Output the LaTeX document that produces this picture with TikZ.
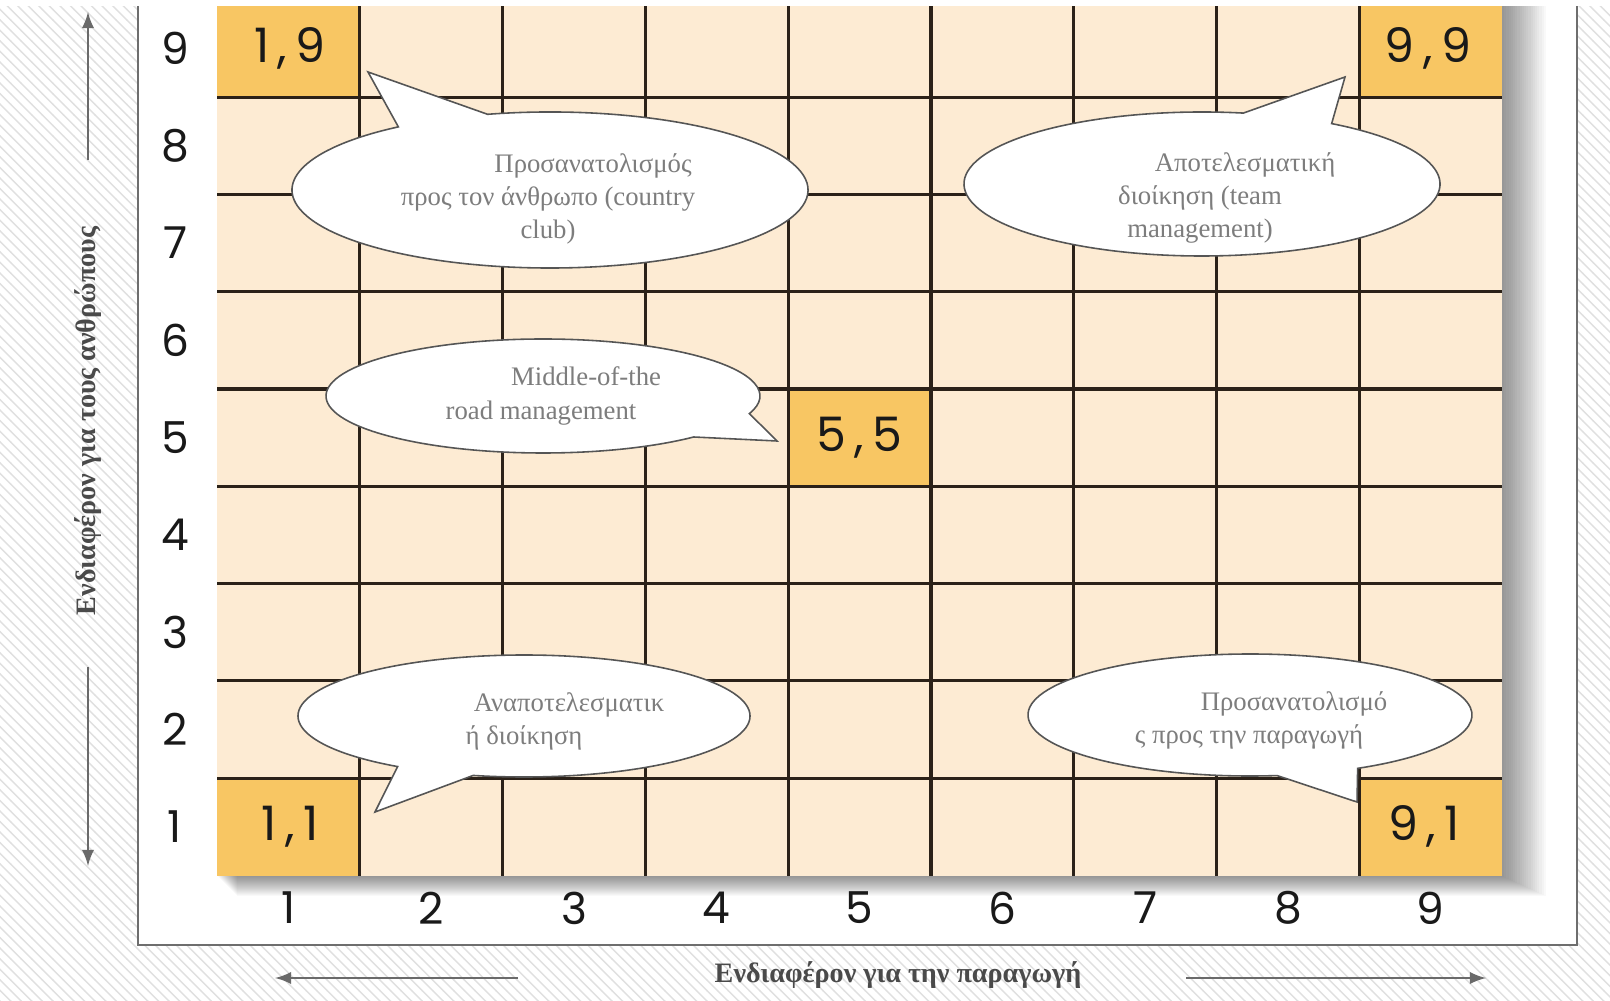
\documentclass[tikz,border=0pt]{standalone}
\usepackage{fontspec}
\setmainfont{Liberation Serif}
\newfontfamily\digitfont{Poppins}
\newfontfamily\cellfont[LetterSpace=18]{Poppins}
\usetikzlibrary{patterns}
\definecolor{cellbg}{HTML}{FDEBD3}
\definecolor{cellhi}{HTML}{F8C663}
\definecolor{gridline}{HTML}{2B2118}
\definecolor{hatch}{HTML}{E0E0E0}
\definecolor{framegray}{HTML}{6E6E6E}
\definecolor{arrowgray}{HTML}{6A6A6A}
\definecolor{bubbleline}{HTML}{555555}
\definecolor{bubbletext}{HTML}{7D7D7D}
\definecolor{axistext}{HTML}{4A4A4A}

\tikzset{
  bubble/.style={draw=bubbleline, fill=white, line width=0.45pt},
  bubbletxt/.style={text=bubbletext, align=center, font=\fontsize{7.6}{9.4}\selectfont},
  rowlab/.style={font=\digitfont\fontsize{12.5}{14}\selectfont, text=black!90},
  celllab/.style={font=\cellfont\fontsize{13.5}{15}\selectfont, text=black!90},
  axlab/.style={font=\bfseries\fontsize{8}{10}\selectfont, text=axistext},
  axarrow/.style={draw=arrowgray, line width=0.6pt, -latex},
  gridln/.style={draw=gridline, line width=0.9pt},
}

\begin{document}
\begin{tikzpicture}[x=0.01cm,y=-0.01cm]
\useasboundingbox (0,0) rectangle (1610,1001);
% hatched page and frame
\fill[white] (0,0) rectangle (1610,1001);
\fill[pattern=north west lines, pattern color=hatch] (0,0) rectangle (1610,1001);
\draw[framegray, line width=0.6pt, fill=white] (138,-20) rectangle (1577,945);
% soft shadow of the grid
\foreach \k in {1,...,20}
  \fill[black, opacity=0.025] (217+\k,-2) rectangle (1502+2.2*\k,875.5+1*\k);
% grid
\fill[cellbg] (217,-2) rectangle (1502,875.5);
\fill[cellhi] (217,-2) rectangle (359.8,97.1);
\fill[cellhi] (1359.4,-2) rectangle (1502,97.1);
\fill[cellhi] (788.2,389) rectangle (931,486.3);
\fill[cellhi] (217,778.2) rectangle (359.8,875.5);
\fill[cellhi] (1359.4,778.2) rectangle (1502,875.5);
\foreach \c in {1,...,8}
  \draw[gridln] (217+142.8*\c,-2) -- (217+142.8*\c,875.5);
\foreach \r in {1,...,8}
  \draw[gridln] (217,875.5-97.3*\r) -- (1502,875.5-97.3*\r);
% row and column numbers
\foreach \n in {1,...,9} {
  \node[rowlab] (row\n) at (175,875.5-97.3*\n+48.65) {\n};
  \node[rowlab] (col\n) at (217+142.8*\n-71.4,908) {\n};
}
\node[celllab] (c19) at (290,48.5) {1,9};
\node[celllab] (c99) at (1428,48.5) {9,9};
\node[celllab] (c55) at (859.6,437.6) {5,5};
\node[celllab] (c11) at (290,826.8) {1,1};
\node[celllab] (c91) at (1424,826.8) {9,1};
% speech bubbles
\draw[bubble] (550,190) ++(256:258 and 78) arc[start angle=256, end angle=594, x radius=258, y radius=78] -- (368,72) -- cycle;
\node[bubbletxt] (country) at (548,199) {\hspace*{0.9cm}Προσανατολισμός\\προς τον άνθρωπο (country\\club)};
\draw[bubble] (1202,184) ++(303:238 and 72) arc[start angle=303, end angle=640, x radius=238, y radius=72] -- (1345,77) -- cycle;
\node[bubbletxt] (team) at (1200,198) {\hspace*{0.9cm}Αποτελεσματική\\διοίκηση (team\\management)};
\draw[bubble] (543,396) ++(46:217 and 57) arc[start angle=46, end angle=378, x radius=217, y radius=57] -- (777,441) -- cycle;
\node[bubbletxt] (middle) at (541,396) {\hspace*{0.9cm}Middle-of-the\\road management};
\draw[bubble] (524,716) ++(124:226 and 61) arc[start angle=124, end angle=463, x radius=226, y radius=61] -- (375,812) -- cycle;
\node[bubbletxt] (poor) at (524,721) {\hspace*{0.9cm}Αναποτελεσματικ\\ή διοίκηση};
\draw[bubble] (1250,715) ++(83:222 and 61) arc[start angle=83, end angle=421, x radius=222, y radius=61] -- (1357,802) -- cycle;
\node[bubbletxt] (task) at (1249,720) {\hspace*{0.9cm}Προσανατολισμό\\ς προς την παραγωγή};
% axes
\node[axlab, rotate=90] (ylab) at (88,421) {Ενδιαφέρον για τους ανθρώπους};
\node[axlab] (xlab) at (898,975) {Ενδιαφέρον για την παραγωγή};
\coordinate (yupA) at (88,160);
\coordinate (yupB) at (88,12);
\coordinate (ydnA) at (88,667);
\coordinate (ydnB) at (88,866);
\coordinate (xlfA) at (518,978);
\coordinate (xlfB) at (275,978);
\coordinate (xrtA) at (1186,978);
\coordinate (xrtB) at (1486,978);
\draw[axarrow] (yupA) -- (yupB);
\draw[axarrow] (ydnA) -- (ydnB);
\draw[axarrow] (xlfA) -- (xlfB);
\draw[axarrow] (xrtA) -- (xrtB);
\fill[white] (0,0) rectangle (1610,6);
\end{tikzpicture}
\end{document}
